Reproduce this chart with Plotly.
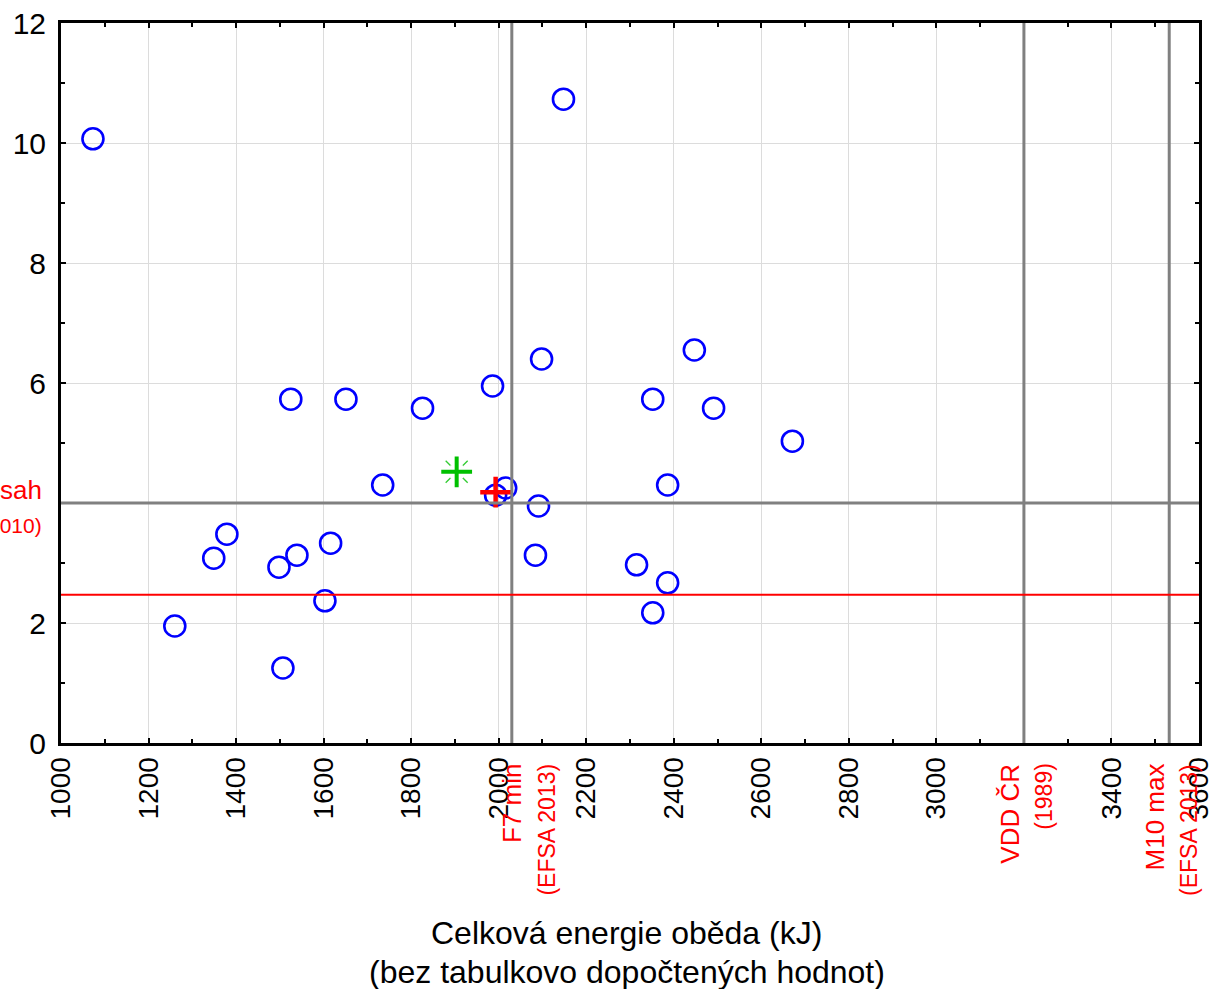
import plotly.graph_objects as go

# Energy of lunch (kJ) vs. second variable, one point per school menu
energie = [1073, 2148, 2447, 2098, 1986, 1525, 1651, 2352, 1826, 2491, 2671,
           1735, 2386, 2016, 1993, 2091, 1379, 1616, 1349, 1539, 2084, 1498,
           2315, 2386, 1603, 1260, 2352, 1507]
hodnota = [10.07, 10.73, 6.55, 6.40, 5.95, 5.73, 5.73, 5.73, 5.58, 5.58, 5.03,
           4.30, 4.30, 4.25, 4.13, 3.95, 3.48, 3.33, 3.08, 3.13, 3.13, 2.93,
           2.97, 2.67, 2.37, 1.95, 2.17, 1.25]

# summary markers
prumer = (1904, 4.52)      # green cross
median = (1993, 4.18)      # red cross

# reference lines
vert_lines = [2030, 3200, 3532]
vert_labels = [("F7 min", "(EFSA 2013)"), ("VDD ČR", "(1989)"), ("M10 max", "(EFSA 2013)")]
vert_label_shift = [(0, 35), (-14, 20), (-14, 19)]
horiz_gray = 4.0
horiz_red = 2.47
left_labels = ("rozsah", "(2010)")

# tick labels; 3200 and 4 give way to the reference-line captions
x_ticks = list(range(1000, 3601, 200))
x_ticktext = ["" if v == 3200 else str(v) for v in x_ticks]
y_ticks = list(range(0, 13, 2))
y_ticktext = ["" if v == 4 else str(v) for v in y_ticks]

FONT = "Liberation Sans, Arial, sans-serif"
RED = "#ff0000"
GRAY = "#808080"

fig = go.Figure()

fig.add_trace(go.Scatter(
    x=energie, y=hodnota, mode="markers",
    marker=dict(symbol="circle-open", size=21, color="#0000ff",
                line=dict(width=2.6, color="#0000ff")),
    showlegend=False, hoverinfo="x+y"))

# green cross with faint diagonal rays
fig.add_trace(go.Scatter(
    x=[prumer[0]], y=[prumer[1]], mode="markers",
    marker=dict(symbol="x-thin", size=22, line=dict(width=1.3, color="#33cc33")),
    showlegend=False, hoverinfo="skip"))
fig.add_trace(go.Scatter(
    x=[prumer[0]], y=[prumer[1]], mode="markers",
    marker=dict(symbol="square", size=13, color="white", line=dict(width=0)),
    showlegend=False, hoverinfo="skip"))
fig.add_trace(go.Scatter(
    x=[prumer[0]], y=[prumer[1]], mode="markers",
    marker=dict(symbol="cross-thin", size=22, line=dict(width=4, color="#00c000")),
    showlegend=False, hoverinfo="x+y"))

fig.add_trace(go.Scatter(
    x=[median[0]], y=[median[1]], mode="markers",
    marker=dict(symbol="cross-thin", size=22, line=dict(width=4.5, color=RED)),
    showlegend=False, hoverinfo="x+y"))

shapes = []
for xv in vert_lines:
    shapes.append(dict(type="line", xref="x", yref="paper", x0=xv, x1=xv, y0=0, y1=1,
                       line=dict(color=GRAY, width=3), layer="above"))
shapes.append(dict(type="line", xref="paper", yref="y", x0=0, x1=1,
                   y0=horiz_gray, y1=horiz_gray, line=dict(color=GRAY, width=3), layer="above"))
shapes.append(dict(type="line", xref="paper", yref="y", x0=0, x1=1,
                   y0=horiz_red, y1=horiz_red, line=dict(color=RED, width=2), layer="above"))

annotations = []
for xv, (l1, l2), (s1, s2) in zip(vert_lines, vert_labels, vert_label_shift):
    annotations.append(dict(x=xv, y=-0.026, xref="x", yref="paper", text=l1,
                            textangle=-90, showarrow=False, xanchor="center", yanchor="top",
                            xshift=s1, font=dict(family=FONT, size=26, color=RED)))
    annotations.append(dict(x=xv, y=-0.026, xref="x", yref="paper", text=l2,
                            textangle=-90, showarrow=False, xanchor="center", yanchor="top",
                            xshift=s2, font=dict(family=FONT, size=23, color=RED)))

annotations.append(dict(x=-0.015, y=4.22, xref="paper", yref="y", text=left_labels[0],
                        showarrow=False, xanchor="right", yanchor="middle",
                        font=dict(family=FONT, size=26, color=RED)))
annotations.append(dict(x=-0.015, y=3.63, xref="paper", yref="y", text=left_labels[1],
                        showarrow=False, xanchor="right", yanchor="middle",
                        font=dict(family=FONT, size=21, color=RED)))

annotations.append(dict(x=0.497, y=-0.264, xref="paper", yref="paper",
                        text="Celková energie oběda (kJ)", showarrow=False,
                        xanchor="center", yanchor="middle",
                        font=dict(family=FONT, size=32, color="black")))
annotations.append(dict(x=0.497, y=-0.318, xref="paper", yref="paper",
                        text="(bez tabulkovo dopočtených hodnot)", showarrow=False,
                        xanchor="center", yanchor="middle",
                        font=dict(family=FONT, size=32, color="black")))

axis_common = dict(
    showline=True, linecolor="black", linewidth=3, mirror="ticks",
    ticks="inside", ticklen=5, tickwidth=2, tickcolor="black",
    showgrid=True, gridcolor="#dcdcdc", gridwidth=1, zeroline=False,
    automargin=False,
)

fig.update_layout(
    width=1210, height=989, autosize=False,
    margin=dict(l=61, r=11, t=23, b=246),
    paper_bgcolor="white", plot_bgcolor="white",
    shapes=shapes, annotations=annotations,
    xaxis=dict(range=[1000, 3600.01], tickvals=x_ticks, ticktext=x_ticktext, tickangle=-90,
               ticklabeloverflow="allow",
               tickfont=dict(family=FONT, size=28, color="black"),
               minor=dict(dtick=100, tick0=1000, ticks="inside", ticklen=4,
                          tickwidth=2, tickcolor="black", showgrid=False),
               **axis_common),
    yaxis=dict(range=[0, 12], tickvals=y_ticks, ticktext=y_ticktext,
               ticklabelstandoff=6, ticklabeloverflow="allow",
               tickfont=dict(family=FONT, size=30, color="black"),
               minor=dict(dtick=1, tick0=0, ticks="inside", ticklen=4,
                          tickwidth=2, tickcolor="black", showgrid=False),
               **axis_common),
)

fig.write_html("out.html")
